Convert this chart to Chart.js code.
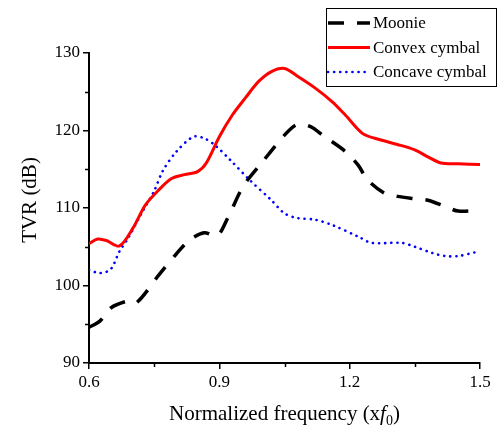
<!DOCTYPE html>
<html>
<head>
<meta charset="utf-8">
<script src="https://cdn.jsdelivr.net/npm/chart.js@4"></script>
<style>
  html, body { margin: 0; padding: 0; background: #fff; }
  #wrap { width: 498px; height: 434px; }
</style>
</head>
<body>
<div id="wrap"><canvas id="tvr"></canvas></div>
<script>
// Data
const moonieFreq = [0.60, 0.625, 0.65, 0.69, 0.71, 0.76, 0.80, 0.83, 0.865, 0.895, 0.92, 0.955, 1.00, 1.05, 1.08, 1.11, 1.14, 1.19, 1.22, 1.24, 1.28, 1.31, 1.35, 1.38, 1.42, 1.45, 1.50];
const moonieTvr = [94.6, 95.4, 97.1, 98.0, 97.8, 101.3, 104.0, 105.8, 106.8, 106.4, 108.8, 112.8, 116.0, 119.4, 120.8, 120.5, 119.3, 117.3, 115.5, 113.7, 111.9, 111.5, 111.2, 111.0, 110.2, 109.6, 109.7];

const convexFreq = [0.60, 0.62, 0.64, 0.67, 0.70, 0.73, 0.76, 0.79, 0.82, 0.85, 0.87, 0.90, 0.93, 0.96, 0.99, 1.02, 1.05, 1.08, 1.12, 1.16, 1.19, 1.23, 1.27, 1.31, 1.35, 1.38, 1.41, 1.45, 1.50];
const convexTvr = [105.4, 106.0, 105.8, 105.1, 107.3, 110.4, 112.3, 113.8, 114.3, 114.7, 115.8, 119.2, 122.0, 124.2, 126.3, 127.6, 128.0, 127.0, 125.5, 123.7, 122.0, 119.6, 118.8, 118.2, 117.5, 116.6, 115.8, 115.7, 115.6];

const concaveFreq = [0.60, 0.625, 0.65, 0.67, 0.69, 0.72, 0.75, 0.77, 0.80, 0.84, 0.865, 0.89, 0.925, 0.97, 1.02, 1.05, 1.08, 1.12, 1.16, 1.22, 1.25, 1.32, 1.35, 1.39, 1.42, 1.45, 1.49, 1.50];
const concaveTvr = [102.0, 101.6, 102.1, 104.4, 106.1, 109.2, 112.2, 114.8, 117.2, 119.2, 119.0, 118.1, 116.2, 113.6, 111.0, 109.3, 108.7, 108.5, 107.8, 106.3, 105.5, 105.5, 105.0, 104.2, 103.8, 103.8, 104.3, 104.4];

const seriesNames = ['Moonie', 'Convex cymbal', 'Concave cymbal'];

const FONT = '"Liberation Serif", "Times New Roman", serif';

function toPoints(xs, ys) {
    return xs.map((x, i) => ({ x: x, y: ys[i] }));
}

function isMajorX(v) { return Math.round(v * 100) % 30 === 0; }
function isMajorY(v) { return Math.round(v) % 10 === 0; }

// draws minor ticks, axis titles and the boxed legend
const decorPlugin = {
    id: 'decor',
    afterDraw(chart) {
        const ctx = chart.ctx;
        const area = chart.chartArea;
        const xs = chart.scales.x;
        const ys = chart.scales.y;
        ctx.save();

        // short minor ticks
        ctx.strokeStyle = '#000';
        ctx.lineWidth = 1.5;
        ctx.beginPath();
        xs.ticks.forEach(t => {
            if (isMajorX(t.value)) return;
            const px = Math.round(xs.getPixelForValue(t.value)) + 0.5;
            ctx.moveTo(px, area.bottom);
            ctx.lineTo(px, area.bottom + 4);
        });
        ys.ticks.forEach(t => {
            if (isMajorY(t.value)) return;
            const py = Math.round(ys.getPixelForValue(t.value)) + 0.5;
            ctx.moveTo(area.left, py);
            ctx.lineTo(area.left - 4, py);
        });
        ctx.stroke();

        ctx.fillStyle = '#000';

        // y title
        ctx.font = '21px ' + FONT;
        ctx.textAlign = 'center';
        ctx.textBaseline = 'middle';
        ctx.translate(30, (area.top + area.bottom) / 2 - 8);
        ctx.rotate(-Math.PI / 2);
        ctx.fillText('TVR (dB)', 0, 0);
        ctx.setTransform(1, 0, 0, 1, 0, 0);

        // x title with italic f and subscript 0
        const parts = [
            { t: 'Normalized frequency (x', f: '21px ' + FONT, dy: 0 },
            { t: 'f', f: 'italic 21px ' + FONT, dy: 0 },
            { t: '0', f: '14px ' + FONT, dy: 5 },
            { t: ')', f: '21px ' + FONT, dy: 0 }
        ];
        let total = 0;
        parts.forEach(p => { ctx.font = p.f; p.w = ctx.measureText(p.t).width; total += p.w; });
        let x = (area.left + area.right) / 2 - total / 2;
        ctx.textAlign = 'left';
        ctx.textBaseline = 'alphabetic';
        parts.forEach(p => {
            ctx.font = p.f;
            ctx.fillText(p.t, x, 420 + p.dy);
            x += p.w;
        });

        // legend
        const box = { x: 326, y: 8, w: 170, h: 78 };
        ctx.fillStyle = '#fff';
        ctx.fillRect(box.x, box.y, box.w, box.h);
        ctx.strokeStyle = '#000';
        ctx.lineWidth = 1;
        ctx.strokeRect(box.x + 0.5, box.y + 0.5, box.w, box.h);
        chart.data.datasets.forEach((ds, i) => {
            const cy = 23 + i * 24.5;
            ctx.beginPath();
            ctx.strokeStyle = ds.borderColor;
            ctx.lineWidth = ds.borderWidth;
            ctx.lineCap = ds.borderCapStyle || 'butt';
            ctx.setLineDash(ds.borderDash || []);
            ctx.moveTo(328, cy);
            ctx.lineTo(370, cy);
            ctx.stroke();
            ctx.setLineDash([]);
            ctx.fillStyle = '#000';
            ctx.font = '17px ' + FONT;
            ctx.textBaseline = 'middle';
            ctx.fillText(ds.label, 373, cy + 1);
        });
        ctx.restore();
    }
};

new Chart(document.getElementById('tvr'), {
    type: 'line',
    data: {
        datasets: [{
            label: seriesNames[0],
            data: toPoints(moonieFreq, moonieTvr),
            borderColor: '#000000',
            borderWidth: 3.5,
            borderDash: [16, 13],
            tension: 0.3,
            pointRadius: 0
        }, {
            label: seriesNames[1],
            data: toPoints(convexFreq, convexTvr),
            borderColor: '#ff0000',
            borderWidth: 3,
            tension: 0.3,
            pointRadius: 0
        }, {
            label: seriesNames[2],
            data: toPoints(concaveFreq, concaveTvr),
            borderColor: '#0000ff',
            borderWidth: 2.6,
            borderDash: [0.1, 6],
            borderCapStyle: 'round',
            tension: 0.3,
            pointRadius: 0
        }]
    },
    options: {
        responsive: true,
        maintainAspectRatio: false,
        animation: false,
        layout: {
            padding: { top: 53, right: 18, left: 0, bottom: 0 }
        },
        plugins: {
            legend: { display: false },
            tooltip: { enabled: false }
        },
        scales: {
            x: {
                type: 'linear',
                min: 0.6,
                max: 1.5,
                afterFit: function(scale) { scale.height = 434 - 363; },
                border: { display: true, color: '#000', width: 2 },
                grid: {
                    drawOnChartArea: false,
                    drawTicks: true,
                    tickLength: 6,
                    lineWidth: 1.5,
                    tickColor: c => (c.tick && isMajorX(c.tick.value)) ? '#000' : 'rgba(0,0,0,0)'
                },
                ticks: {
                    stepSize: 0.15,
                    autoSkip: false,
                    maxRotation: 0,
                    padding: 3,
                    color: '#000',
                    font: { family: FONT, size: 17 },
                    callback: function(v) {
                        return isMajorX(v) ? v.toFixed(1) : '';
                    }
                }
            },
            y: {
                min: 90,
                max: 130,
                afterFit: function(scale) { scale.width = 89; },
                border: { display: true, color: '#000', width: 2 },
                grid: {
                    drawOnChartArea: false,
                    drawTicks: true,
                    tickLength: 6,
                    lineWidth: 1.5,
                    tickColor: c => (c.tick && isMajorY(c.tick.value)) ? '#000' : 'rgba(0,0,0,0)'
                },
                ticks: {
                    stepSize: 5,
                    autoSkip: false,
                    padding: 3,
                    color: '#000',
                    font: { family: FONT, size: 17 },
                    callback: function(v) {
                        return isMajorY(v) ? String(v) : '';
                    }
                }
            }
        }
    },
    plugins: [decorPlugin]
});
</script>
</body>
</html>
